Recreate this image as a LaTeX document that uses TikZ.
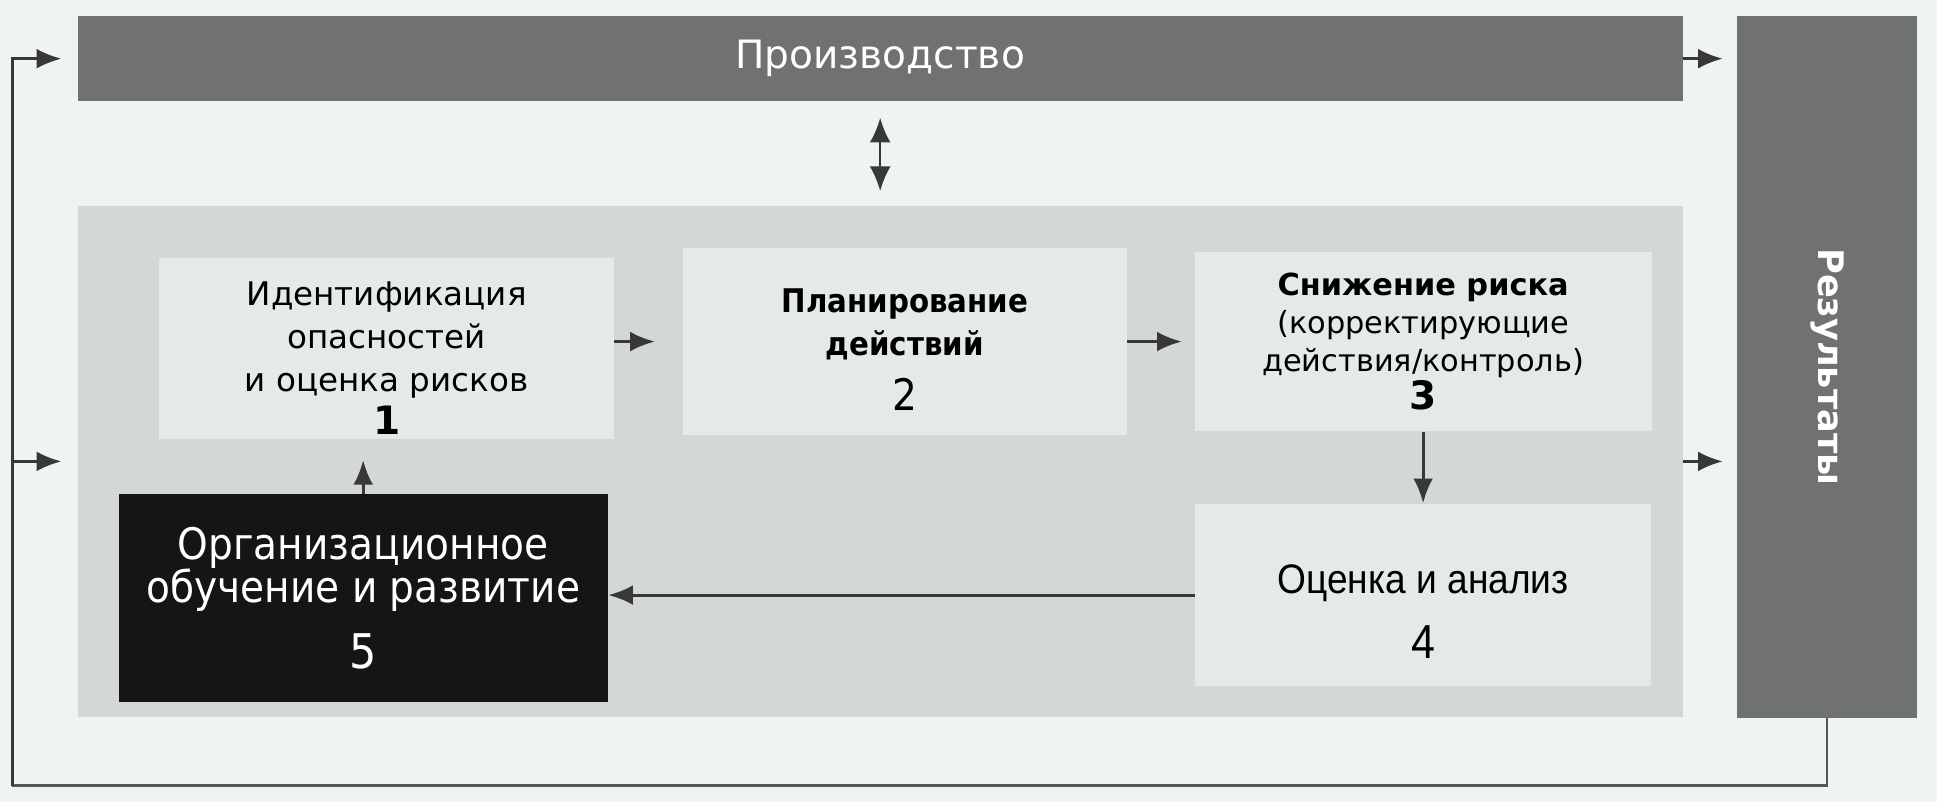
\documentclass[tikz,border=0pt]{standalone}
\usepackage{fontspec}
\setmainfont{DejaVu Sans}
\newfontfamily\condfont[FakeStretch=0.9]{DejaVu Sans}
\newfontfamily\narrowfont[FakeStretch=0.9]{Liberation Sans}
\usepackage{xcolor}
\usetikzlibrary{arrows.meta,positioning,calc}

\definecolor{bgmint}{HTML}{EEF4F0}
\definecolor{bargray}{HTML}{6F7270}
\definecolor{panelgray}{HTML}{D3D7D5}
\definecolor{boxfill}{HTML}{E4EAE7}
\definecolor{boxdark}{HTML}{151515}
\definecolor{arrowgray}{HTML}{383838}

\begin{document}
\begin{tikzpicture}[
    bar/.style={
        rectangle,
        fill=bargray,
        text=white,
        inner sep=0pt
    },
    box/.style={
        rectangle,
        fill=boxfill,
        align=center,
        inner sep=0pt
    },
    arrow/.style={
        -{Latex[length=0.4cm,width=0.32cm]},
        line width=1.4pt,
        draw=arrowgray
    },
    loopline/.style={
        line width=1.1pt,
        draw=arrowgray!85
    }
]

% Background
\fill[bgmint] (0,0) rectangle (31.36,12.98);
\useasboundingbox (0,0) rectangle (31.36,12.98);

% Frame
\node[bar, minimum width=25.98cm, minimum height=1.38cm,
      font=\fontsize{18}{22}\selectfont] (prod) at (14.25,12.03) {Производство};
\node[bar, minimum width=2.92cm, minimum height=11.36cm] (results) at (29.58,7.04) {};
\node[text=white, rotate=-90, font=\bfseries\fontsize{16.2}{19}\selectfont]
      (resultsText) at (results.center) {Результаты};
\node[rectangle, fill=panelgray, minimum width=25.98cm, minimum height=8.26cm,
      inner sep=0pt] (panel) at (14.25,5.51) {};

% First row
\node[box, minimum width=7.36cm, minimum height=2.92cm,
      font=\fontsize{15}{19.8}\selectfont] (ident) at (6.26,7.34)
      {\rule{0pt}{0.7cm}Идентификация\\опасностей\\и оценка рисков\\{\fontsize{18}{20}\selectfont\textbf{1}}};
\node[box, minimum width=7.18cm, minimum height=3.02cm,
      font=\condfont\fontsize{15}{19.5}\selectfont] (plan) at (14.65,7.45)
      {\rule{0pt}{0.65cm}\textbf{Планирование}\\\textbf{действий}\\[6pt]{\fontsize{20}{22}\selectfont 2}};
\node[box, minimum width=7.40cm, minimum height=2.90cm,
      font=\fontsize{14}{17.6}\selectfont] (reduce) at (23.04,7.45)
      {\textbf{Снижение риска}\\(корректирующие\\действия/контроль)\\{\fontsize{18}{19}\selectfont\textbf{3}}};

% Second row
\node[box, minimum width=7.38cm, minimum height=2.96cm, below=1.16cm of reduce,
      font=\narrowfont\fontsize{19}{23}\selectfont] (review)
      {\rule{0pt}{1.0cm}Оценка и анализ\\[7pt]{\fontsize{22}{24}\selectfont 4}};
\node[box, fill=boxdark, text=white, minimum width=7.92cm, minimum height=3.36cm,
      font=\condfont\fontsize{20}{20}\selectfont] (learn) at (5.88,3.30)
      {Организационное\\обучение и развитие\\[9pt]{\fontsize{22}{22}\selectfont 5}};

% Arrows
\draw[arrow, shorten >=0.45cm] (ident.east |- plan.west) -- (plan.west);
\draw[arrow, shorten >=0.2cm] (plan.east |- reduce.west) -- (reduce.west);
\draw[arrow] (reduce.south) -- (review.north);
\draw[arrow] (review.west) -- (review.west -| learn.east);
\draw[arrow, shorten >=0.34cm] (learn.north) -- (learn.north |- ident.south);
\draw[{Latex[length=0.4cm,width=0.34cm]}-{Latex[length=0.4cm,width=0.34cm]},
      line width=1.1pt, draw=arrowgray, shorten <=0.26cm, shorten >=0.24cm]
      (prod.south) -- (prod.south |- panel.north);
\draw[arrow, shorten >=0.22cm] (prod.east) -- (prod.east -| results.west);
\draw[arrow, shorten >=0.22cm] (panel.east) -- (panel.east -| results.west);

% Feedback loop
\coordinate (loopCorner) at (0.20,0.26);
\draw[loopline] (results.south) |- (loopCorner);
\draw[arrow, line width=1.1pt, shorten >=0.26cm] (loopCorner) |- (prod.west);
\draw[arrow, line width=1.1pt, shorten >=0.26cm] (loopCorner |- panel.west) -- (panel.west);

\end{tikzpicture}
\end{document}
